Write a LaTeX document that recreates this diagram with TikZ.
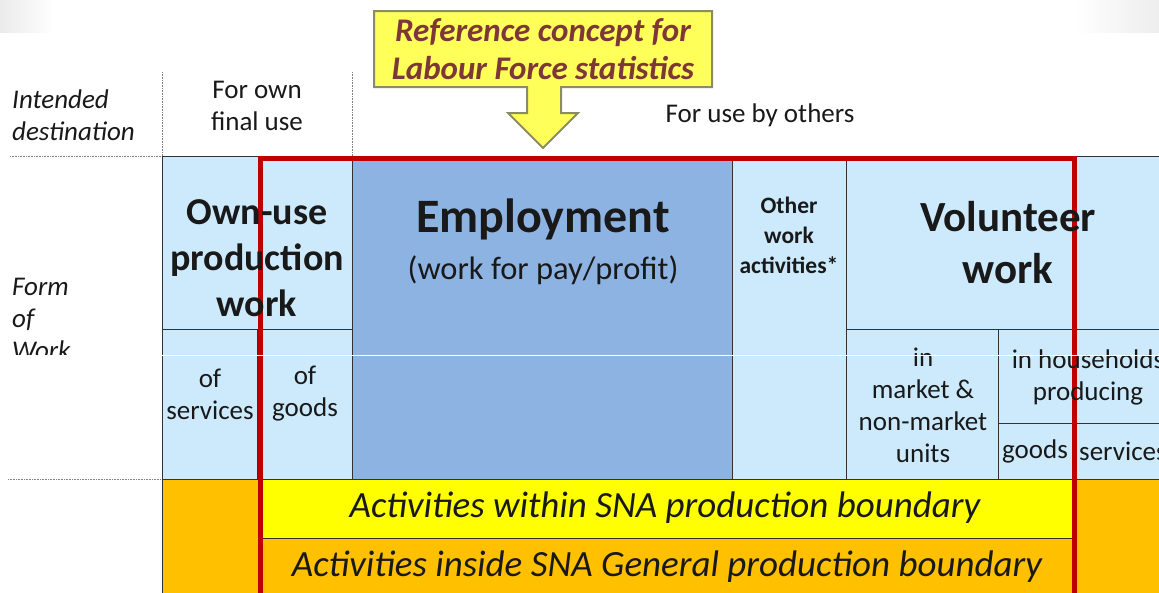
\documentclass[tikz,border=0pt]{standalone}
\usepackage{fontspec}
\setmainfont{Carlito}
\definecolor{lblue}{RGB}{204,234,252}
\definecolor{eblue}{RGB}{141,179,226}
\definecolor{yel}{RGB}{255,255,0}
\definecolor{org}{RGB}{255,192,0}
\definecolor{redb}{RGB}{192,0,0}
\definecolor{callfill}{RGB}{255,255,90}
\definecolor{callline}{RGB}{140,140,100}
\definecolor{calltext}{RGB}{125,55,55}
\definecolor{gridline}{RGB}{50,50,50}
\definecolor{txt}{RGB}{25,25,25}
\newcommand{\mycell}[6]{\node[#6, anchor=north west, minimum width={#4-#2}, minimum height={#5-#3}] (#1) at (#2,#3) {};}
\tikzset{
  cellbox/.style={draw=gridline, line width=1pt, inner sep=0pt, outer sep=0pt},
  lb/.style={cellbox, fill=lblue},
  guide/.style={draw=gray, line width=0.8pt, dash pattern=on 0.8pt off 0.8pt},
  lab/.style={text=txt, align=center, inner sep=0pt},
  small/.style={font=\fontsize{27}{32}\selectfont},
  smallit/.style={font=\fontsize{27}{32}\selectfont\itshape},
}
\begin{document}
\begin{tikzpicture}[x=1pt,y=-1pt]
\useasboundingbox (0,0) rectangle (1159,592);
\clip (0,0) rectangle (1159,592);
\shade[left color=black!8, right color=white] (0,0) rectangle (55,32);
\shade[left color=white, right color=black!7] (1075,0) rectangle (1159,32);
% guides
\coordinate (g1a) at (10,156); \coordinate (g1b) at (162,156);
\coordinate (g2a) at (8,479); \coordinate (g2b) at (162,479);
\coordinate (v1a) at (162,72); \coordinate (v2a) at (352,72); \coordinate (v2b) at (352,156);
\draw[guide] (g1a) -- (g1b);
\draw[guide] (g2a) -- (g2b);
\draw[guide] (v1a) -- (g1b);
\draw[guide] (v2a) -- (v2b);
% cells
\mycell{own}{162}{156}{352}{329}{lb}
\mycell{ownsvc}{162}{329}{257}{479}{lb}
\mycell{owngds}{257}{329}{352}{479}{lb}
\mycell{emp}{352}{156}{732}{479}{cellbox, fill=eblue}
\mycell{oth}{732}{156}{846}{479}{lb}
\mycell{vol}{846}{156}{1175}{329}{lb}
\mycell{mkt}{846}{329}{998}{479}{lb}
\mycell{hh}{998}{329}{1175}{423}{lb}
\mycell{hgds}{998}{423}{1073}{479}{lb}
\mycell{hsvc}{1073}{423}{1175}{479}{lb}
\mycell{gen}{162}{479}{1175}{610}{cellbox, fill=org}
\mycell{sna}{258}{479}{1073}{538}{cellbox, fill=yel}
% red frame
\draw[redb, line width=5pt] (260,158.5) rectangle (1074.5,620);
% texts
\node[lab, smallit, anchor=west, align=left] (intd) at (12,115) {Intended\\destination};
\node[lab, small] (fown) at (257,106) {For own\\final use};
\node[lab, small] (fuse) at (760,115) {For use by others};
\node[lab, smallit, anchor=west, align=left] (fow) at (12,319) {Form\\of\\Work};
\node[lab, font=\fontsize{38}{46}\selectfont\bfseries] (ownt) at (257,258) {Own-use\\production\\work};
\node[lab, font=\fontsize{48}{50}\selectfont\bfseries] (empt) at (543,219) {Employment};
\node[lab, font=\fontsize{32.5}{36}\selectfont] (empp) at (543,270) {(work for pay/profit)};
\node[lab, font=\fontsize{23.5}{30}\selectfont\bfseries] (otht) at (789,235) {Other\\work\\activities*};
\node[lab, font=\fontsize{43}{52}\selectfont\bfseries] (volt) at (1008,243) {Volunteer\\work};
\node[lab, small] (mktt) at (923,405) {in\\market \&\\non-market\\units};
\node[lab, small] (hht) at (1088,377) {in households\\producing};
\node[lab, small] (hgdt) at (1035,451) {goods};
\node[lab, small, anchor=west] (hsvt) at (1079,451) {services};
\node[lab, small] (osvt) at (210,394) {of\\services};
\node[lab, small] (ogdt) at (305,394) {of\\goods};
\node[lab, font=\fontsize{37}{40}\selectfont\itshape] (snat) at (665,508) {Activities within SNA production boundary};
\node[lab, font=\fontsize{37}{40}\selectfont\itshape] (gent) at (667,567) {Activities inside SNA General production boundary};
% white scan line artifact
\fill[white] (0,355) rectangle (160,372);
\draw[white, line width=1pt] (0,355) -- (1159,355);
% callout
\draw[draw=callline, fill=callfill, line width=2pt, line join=miter]
  (374,11) -- (712,11) -- (712,87) -- (561,87) -- (561,113) -- (578,113) -- (543,148)
  -- (508,113) -- (527,113) -- (527,87) -- (374,87) -- cycle;
\node[lab, text=calltext, font=\fontsize{33}{38}\selectfont\bfseries\itshape] (reft) at (543,49) {Reference concept for\\Labour Force statistics};
\end{tikzpicture}
\end{document}
